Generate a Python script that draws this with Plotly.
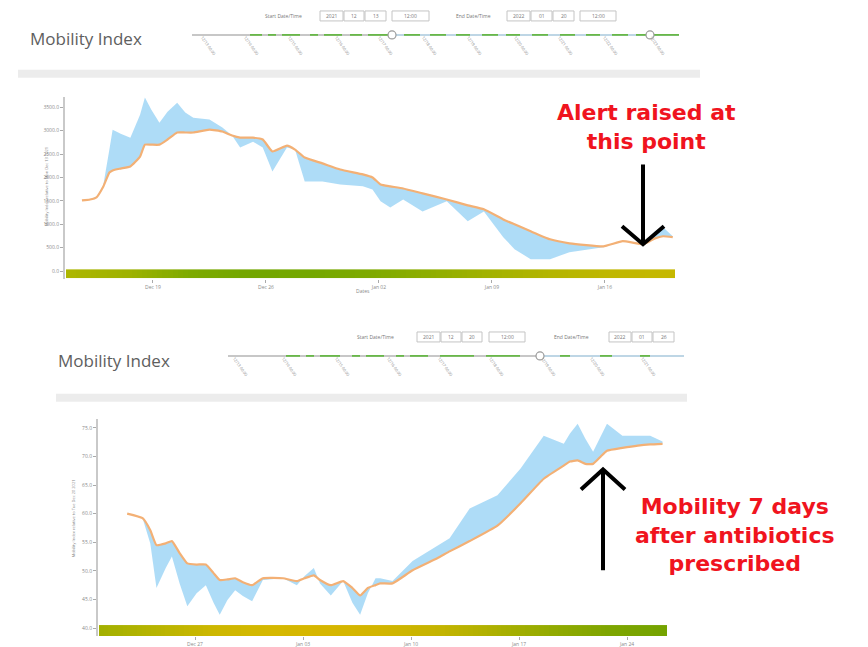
import plotly.graph_objects as go

W, H = 868, 647

# ---------------- data: first episode (alert) ----------------
# x = days relative to Dec 19 (first labelled tick)
top_days = [-4.4, -3.9, -3.5, -3.1, -2.7, -2.5, -2.0, -1.4, -0.8, -0.5, -0.1, 0.4,
            0.9, 1.5, 2.0, 2.5, 3.5, 4.3, 4.9, 5.4, 6.2, 6.8, 7.4, 8.3,
            8.8, 9.4, 10.5, 11.6, 13.0, 13.6, 14.1, 14.7, 15.5, 16.7, 18.2, 19.5,
            20.5, 21.7, 22.4, 23.4, 24.6, 25.8, 27.9, 29.1, 30.4, 31.1, 31.6, 32.2]
top_index = [1510, 1530, 1575, 1790, 2105, 2150, 2190, 2235, 2445, 2700, 2700, 2700,
             2810, 2960, 2960, 2960, 3020, 2980, 2895, 2850, 2850, 2810, 2555, 2680,
             2595, 2425, 2300, 2170, 2065, 2000, 1850, 1810, 1765, 1660, 1530, 1405,
             1320, 1105, 1000, 850, 680, 595, 530, 640, 575, 700, 745, 725]
top_raw = [1510, 1530, 1595, 1790, 2595, 3020, 2935, 2850, 3340, 3705, 3445, 3170,
           3405, 3595, 3385, 3275, 3235, 3065, 2895, 2640, 2765, 2640, 2130, 2640,
           2595, 1915, 1915, 1850, 1810, 1745, 1490, 1360, 1530, 1275, 1490, 1065,
           1275, 725, 470, 255, 255, 405, 510, 640, 575, 850, 935, 745]
top_yticks = [0, 500, 1000, 1500, 2000, 2500, 3000, 3500]
top_xticks = [0, 7, 14, 21, 28]
top_xlabels = ["Dec 19", "Dec 26", "Jan 02", "Jan 09", "Jan 16"]
top_bar_colors = ["#adb600", "#9eb200", "#7daa00", "#73a700", "#74a800", "#7eaa00",
                  "#8fae00", "#a3b200", "#b4b500", "#c0b700", "#c6b800"]

# ---------------- data: second episode (recovery) ----------------
# x = days relative to Dec 27 (first labelled tick)
bot_days = [-4.4, -3.4, -2.9, -2.5, -1.9, -1.5, -1.0, -0.5, 0.1, 0.7, 1.2, 1.6,
            2.1, 2.6, 3.1, 3.7, 4.4, 5.7, 6.6, 7.1, 7.7, 8.1, 8.8, 9.6,
            10.2, 10.7, 11.2, 11.7, 12.0, 12.8, 14.1, 15.7, 16.5, 17.8, 19.6, 21.1,
            22.6, 23.9, 24.3, 24.8, 25.3, 25.8, 26.3, 26.7, 27.7, 28.7, 29.5, 30.3]
bot_index = [60.0, 59.2, 57.1, 54.5, 54.8, 55.2, 53.1, 51.3, 51.1, 51.1, 49.6, 48.4,
             48.5, 48.7, 48.0, 47.5, 48.7, 48.7, 48.2, 48.7, 49.2, 48.4, 47.5, 48.2,
             47.0, 45.7, 47.0, 47.5, 47.8, 47.8, 50.1, 52.2, 53.4, 55.2, 57.9, 61.8,
             66.1, 68.4, 69.1, 69.3, 68.7, 68.7, 70.0, 71.0, 71.5, 71.9, 72.1, 72.2]
bot_raw = [60.0, 59.2, 54.8, 47.0, 50.5, 52.5, 47.8, 43.8, 46.1, 47.5, 44.4, 42.3,
           44.9, 46.6, 45.6, 44.7, 48.4, 48.7, 47.5, 49.1, 50.5, 47.8, 45.7, 48.2,
           44.4, 42.3, 46.1, 48.7, 48.7, 48.2, 51.7, 54.3, 55.7, 60.9, 63.2, 67.9,
           73.6, 72.2, 74.0, 75.7, 73.1, 70.8, 73.4, 75.7, 73.6, 73.6, 73.6, 72.6]
bot_yticks = [40, 45, 50, 55, 60, 65, 70, 75]
bot_xticks = [0, 7, 14, 21, 28]
bot_xlabels = ["Dec 27", "Jan 03", "Jan 10", "Jan 17", "Jan 24"]
bot_bar_colors = ["#a3b000", "#b8b400", "#cdb700", "#d5b800", "#d6b600", "#d2b500",
                  "#c4b400", "#acb000", "#92aa00", "#7ea500", "#74a300"]

ORANGE = "#f3b075"
BLUE_FILL = "rgba(170,218,247,0.95)"
AXIS_GREY = "#c9c9c9"
TICK_FONT = dict(family="Open Sans", size=5, color="#8a8a8a")


def X(px):
    return px / W


def Y(py):
    return 1 - py / H


fig = go.Figure()


def add_panel(days, index, raw, xa, ya):
    # base (index) line for the band, then raw value filled against it
    fig.add_trace(go.Scatter(x=days, y=index, mode="lines", line=dict(width=0, color=ORANGE),
                             hoverinfo="skip", showlegend=False, xaxis=xa, yaxis=ya))
    fig.add_trace(go.Scatter(x=days, y=raw, mode="lines", line=dict(width=0),
                             fill="tonexty", fillcolor=BLUE_FILL, name="Daily value",
                             showlegend=False, xaxis=xa, yaxis=ya))
    fig.add_trace(go.Scatter(x=days, y=index, mode="lines",
                             line=dict(width=2.2, color=ORANGE, shape="spline", smoothing=0.4),
                             name="Mobility Index", showlegend=False, xaxis=xa, yaxis=ya))


def add_bar(colors, xa, ya):
    n = 120
    edges = [i / n for i in range(n + 1)]
    z = [[i / (n - 1) for i in range(n)]]
    scale = [[k / (len(colors) - 1), c] for k, c in enumerate(colors)]
    fig.add_trace(go.Heatmap(x=edges, y=[0, 1], z=z, colorscale=scale, zmin=0, zmax=1,
                             showscale=False, hoverinfo="skip", xaxis=xa, yaxis=ya))


add_panel(top_days, top_index, top_raw, "x", "y")
add_panel(bot_days, bot_index, bot_raw, "x2", "y2")
add_bar(top_bar_colors, "x3", "y3")
add_bar(bot_bar_colors, "x4", "y4")

ax_common = dict(showgrid=False, zeroline=False)
fig.update_layout(
    width=W, height=H, margin=dict(l=0, r=0, t=0, b=0),
    paper_bgcolor="white", plot_bgcolor="rgba(0,0,0,0)",
    xaxis=dict(domain=[X(65), X(675)], range=[-5.45, 32.34], tickvals=top_xticks,
               ticktext=top_xlabels, ticks="outside", ticklen=3, tickcolor="#aaa",
               tickfont=TICK_FONT, showline=False, anchor="y", **ax_common),
    yaxis=dict(domain=[Y(280), Y(97)], range=[-170, 3724], tickvals=top_yticks,
               tickformat=".1f", ticks="outside", ticklen=3, tickcolor="#aaa",
               tickfont=TICK_FONT, showline=True, linecolor=AXIS_GREY, linewidth=2,
               anchor="x", **ax_common),
    xaxis2=dict(domain=[X(98), X(667)], range=[-6.29, 30.59], tickvals=bot_xticks,
                ticktext=bot_xlabels, ticks="outside", ticklen=3, tickcolor="#aaa",
                tickfont=TICK_FONT, showline=False, anchor="y2", **ax_common),
    yaxis2=dict(domain=[Y(638), Y(420)], range=[38.6, 76.6], tickvals=bot_yticks,
                tickformat=".1f", ticks="outside", ticklen=3, tickcolor="#aaa",
                tickfont=TICK_FONT, showline=True, linecolor=AXIS_GREY, linewidth=2,
                anchor="x2", **ax_common),
    xaxis3=dict(domain=[X(66), X(675)], range=[0, 1], visible=False, anchor="y3"),
    yaxis3=dict(domain=[Y(279), Y(270)], range=[0, 1], visible=False, anchor="x3"),
    xaxis4=dict(domain=[X(99), X(667)], range=[0, 1], visible=False, anchor="y4"),
    yaxis4=dict(domain=[Y(638), Y(627)], range=[0, 1], visible=False, anchor="x4"),
)

shapes = []
annos = []


def line(x0, y0, x1, y1, color, width):
    shapes.append(dict(type="line", xref="paper", yref="paper", x0=X(x0), y0=Y(y0),
                       x1=X(x1), y1=Y(y1), line=dict(color=color, width=width)))


def rect(x0, y0, x1, y1, fill, border=None):
    shapes.append(dict(type="rect", xref="paper", yref="paper", x0=X(x0), y0=Y(y0),
                       x1=X(x1), y1=Y(y1), fillcolor=fill,
                       line=dict(color=border or fill, width=1 if border else 0)))


def text(x, y, s, size=5, color="#8a8a8a", angle=0, bold=False, family="Open Sans",
         xanchor="center"):
    annos.append(dict(xref="paper", yref="paper", x=X(x), y=Y(y), text=f"<b>{s}</b>" if bold else s,
                      showarrow=False, textangle=angle, xanchor=xanchor, yanchor="middle",
                      font=dict(family=family, size=size, color=color)))


def header(title_x, title_y, slider_x0, slider_x1, slider_y, handles, ticks_x, green,
           boxes, bar):
    text(title_x, title_y, "Mobility Index", size=17, color="#5e5e5e", family="Open Sans",
         xanchor="left")
    line(slider_x0, slider_y, handles[0], slider_y, "#b5b5b5", 1.5)
    line(handles[0], slider_y, slider_x1, slider_y, "#a9c9dc", 1.5)
    for g0, g1 in green:
        line(g0, slider_y, g1, slider_y, "#68b848", 1.8)
    for hx in handles:
        shapes.append(dict(type="circle", xref="paper", yref="paper", x0=X(hx - 4),
                           x1=X(hx + 4), y0=Y(slider_y + 4), y1=Y(slider_y - 4),
                           fillcolor="white", line=dict(color="#9a9a9a", width=1.2)))
    for k, tx in enumerate(ticks_x):
        text(tx + 3, slider_y + 11, f"12/{13 + k:02d} 00:00", size=4, color="#8a8a8a", angle=55)
    for kind, x0, x1, y0, s in boxes:
        if kind == "label":
            text((x0 + x1) / 2, y0, s, size=5, color="#777")
        else:
            rect(x0, y0 - 5, x1, y0 + 5, "white", "#c4c4c4")
            text((x0 + x1) / 2, y0, s, size=5, color="#777")
    rect(bar[0], bar[1], bar[2], bar[3], "#ececec")


header(28, 39, 192, 679, 35, [392, 650],
       [205, 248, 292, 339, 382, 426, 471, 518, 562, 607, 654],
       [(250, 262), (268, 276), (282, 300), (310, 318), (324, 342), (350, 362), (368, 390),
        (404, 420), (430, 446), (456, 470), (482, 498), (506, 520), (532, 548), (560, 575),
        (586, 600), (612, 628), (636, 648), (652, 679)],
       [("label", 252, 315, 16, "Start Date/Time"), ("box", 320, 343, 16, "2021"),
        ("box", 344, 364, 16, "12"), ("box", 365, 386, 16, "13"),
        ("box", 392, 429, 16, "12:00"), ("label", 444, 502, 16, "End Date/Time"),
        ("box", 507, 530, 16, "2022"), ("box", 531, 552, 16, "01"),
        ("box", 553, 574, 16, "20"), ("box", 580, 616, 16, "12:00")],
       (18, 70, 700, 78))

header(56, 362, 228, 684, 357, [540],
       [237, 286, 339, 391, 442, 493, 545, 594, 645],
       [(286, 300), (306, 314), (320, 340), (352, 360), (366, 384), (396, 404), (410, 428),
        (440, 474), (486, 520), (560, 570), (600, 612), (640, 650)],
       [("label", 344, 406, 338, "Start Date/Time"), ("box", 417, 440, 338, "2021"),
        ("box", 441, 461, 338, "12"), ("box", 462, 482, 338, "20"),
        ("box", 489, 525, 338, "12:00"), ("label", 542, 600, 338, "End Date/Time"),
        ("box", 609, 631, 338, "2022"), ("box", 632, 652, 338, "01"),
        ("box", 653, 674, 338, "26")],
       (56, 395, 687, 403))

# axis titles
text(46, 188, "Mobility Index relative to Mon Dec 13 2021", size=4, color="#888", angle=-90)
text(363, 292, "Dates", size=5, color="#888")
text(73, 520, "Mobility Index relative to Tue Dec 20 2021", size=4, color="#888", angle=-90)

# callouts
RED = "#f0141e"
CALLOUT = "DejaVu Sans"
text(646, 127, "Alert raised at<br>this point", size=22, color=RED, bold=True, family=CALLOUT)
text(735, 537, "Mobility 7 days<br>after antibiotics<br>prescribed", size=22, color=RED,
     bold=True, family=CALLOUT)


def arrow(xs, y_tail, y_tip, wing_dx, wing_dy):
    line(xs, y_tail, xs, y_tip, "black", 4)
    d = "M {} {} L {} {} L {} {}".format(X(xs - wing_dx), Y(y_tip + wing_dy), X(xs), Y(y_tip),
                                         X(xs + wing_dx), Y(y_tip + wing_dy))
    shapes.append(dict(type="path", xref="paper", yref="paper", path=d,
                       line=dict(color="black", width=4)))


arrow(643, 165, 245, 21, -18)
arrow(603, 572, 471, 22, 20)

fig.update_layout(shapes=shapes, annotations=annos)
fig.write_html("out.html")
